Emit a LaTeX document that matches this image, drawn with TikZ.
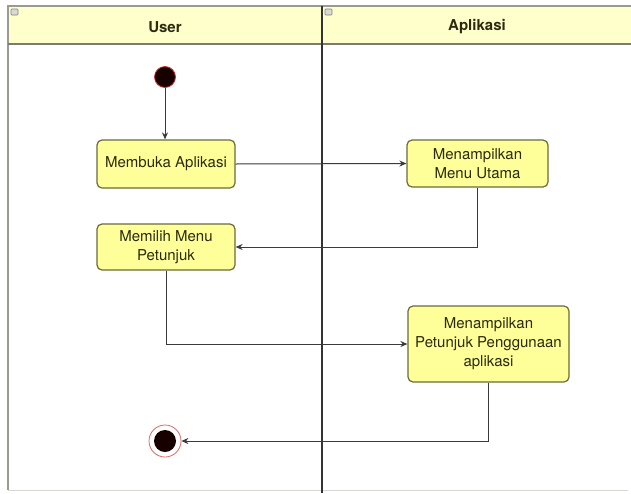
\documentclass[tikz,border=0pt]{standalone}
\usepackage{fontspec}
\setmainfont{TeX Gyre Heros}
\usetikzlibrary{arrows.meta}
\definecolor{hdrfill}{HTML}{FFFFCC}
\definecolor{boxfill}{HTML}{FFFF99}
\definecolor{boxline}{HTML}{6B6B3A}
\definecolor{lanegray}{HTML}{9A9A90}
\definecolor{lanedark}{HTML}{333333}
\definecolor{conn}{HTML}{3A3A3A}
\definecolor{startred}{HTML}{CC3333}
\definecolor{endred}{HTML}{E06666}
\definecolor{txt}{HTML}{2A2A10}
\tikzset{
  actbox/.style={draw=boxline, fill=boxfill, line width=1.2pt, rounded corners=5pt,
    align=center, inner sep=1pt, text=txt, font=\fontsize{15}{19}\selectfont},
  conline/.style={draw=conn, line width=1pt},
  conarrow/.style={conline, -{Stealth[length=7pt,width=6pt]}},
  lanetitle/.style={font=\bfseries\fontsize{15}{17}\selectfont, text=txt},
  mini/.style={draw=gray, fill=lightgray!60, rounded corners=0.8pt, line width=0.6pt,
    minimum width=7pt, minimum height=6pt, inner sep=0pt}
}
\begin{document}
\begin{tikzpicture}[x=1pt,y=-1pt]
\useasboundingbox (0,0) rectangle (631,493);
\fill[white] (0,0) rectangle (631,493);
% header
\fill[hdrfill] (8,6) rectangle (631,44);
\draw[lanegray, line width=1.3pt] (631,6) -- (8,6) -- (8,490);
\draw[lanegray!80!black, line width=1.3pt] (8,44) -- (631,44);
\draw[lanegray!40, line width=0.8pt] (8,490) -- (628,490);
\draw[lanedark, line width=1.3pt] (322,6) -- (322,493);
\node[mini] (m1) at (14.5,12) {};
\node[mini] (m2) at (328.5,12) {};
\node[lanetitle] (tu) at (165,27) {User};
\node[lanetitle] (ta) at (477,27) {Aplikasi};
% nodes
\node[circle, fill=black!90!red, draw=startred, line width=0.8pt, minimum size=21pt, inner sep=0pt] (start) at (165,77) {};
\node[actbox, minimum width=138pt, minimum height=48pt] (a1) at (166,164) {Membuka Aplikasi};
\node[actbox, minimum width=141pt, minimum height=47pt] (a2) at (477.5,163.5) {Menampilkan\\Menu Utama};
\node[actbox, minimum width=138pt, minimum height=46pt] (a3) at (166,247) {Memilih Menu\\Petunjuk};
\node[actbox, minimum width=161pt, minimum height=76pt] (a4) at (488.5,344) {Menampilkan\\Petunjuk Penggunaan\\aplikasi};
\node[circle, draw=endred, fill=white, line width=0.8pt, minimum size=32pt, inner sep=0pt] (end) at (165,441) {};
\node[circle, fill=black!90!red, minimum size=22pt, inner sep=0pt] (endin) at (165,441) {};
% connectors
\draw[conarrow] (start) -- (start |- a1.north);
\draw[conarrow] (a1.east) -- (a2.west);
\draw[conarrow] (a2.south) |- (a3.east);
\draw[conarrow] (a3.south) |- (a4.west);
\draw[conarrow] (a4.south) |- (end.east);
\end{tikzpicture}
\end{document}
